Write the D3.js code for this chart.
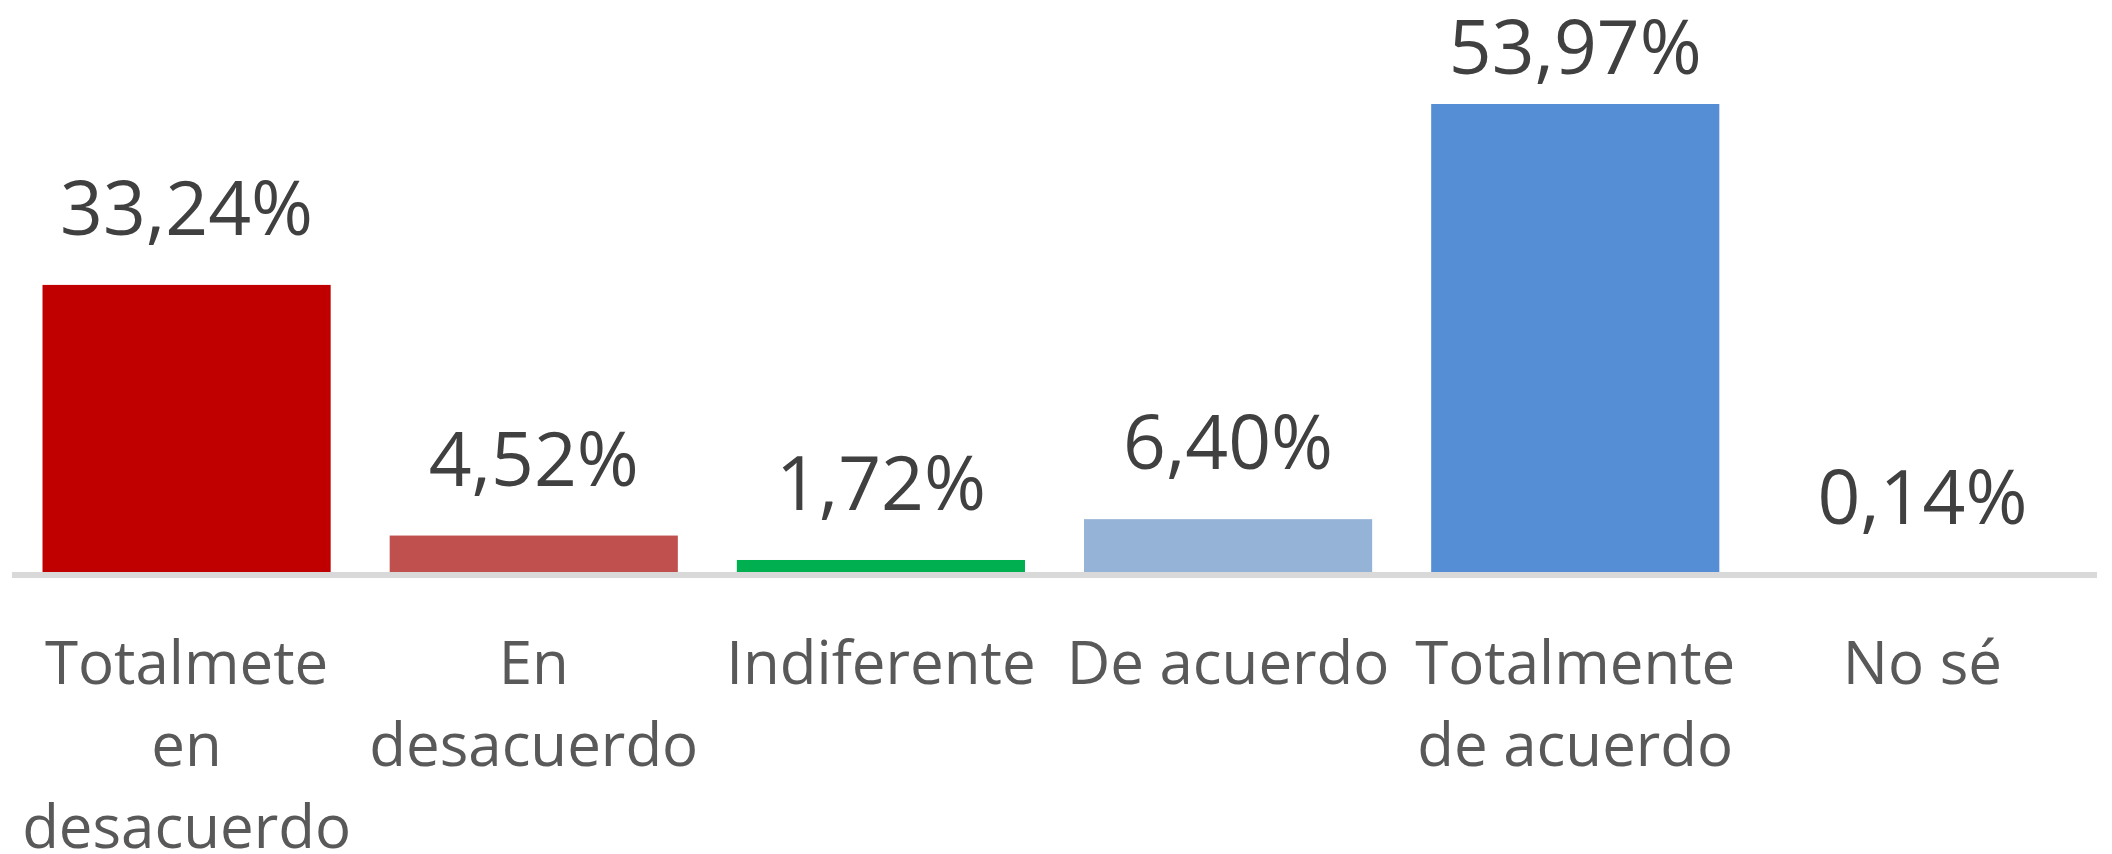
<!DOCTYPE html>
<html>
<head>
<meta charset="utf-8">
<script src="https://cdn.jsdelivr.net/npm/d3@7"></script>
<style>
  body { margin: 0; background: #fff; }
  svg { display: block; font-family: "Open Sans", sans-serif; }
</style>
</head>
<body>
<div id="chart"></div>
<script>
// Data
var categories = ["Totalmete en desacuerdo", "En desacuerdo", "Indiferente", "De acuerdo", "Totalmente de acuerdo", "No sé"];
var values = [33.24, 4.52, 1.72, 6.40, 53.97, 0.14];
var colors = ["#C00000", "#C0504D", "#00B050", "#95B3D7", "#558ED5", "#A5A5A5"];

var width = 2112, height = 854;

var svg = d3.select("#chart")
  .append("svg")
    .attr("width", width)
    .attr("height", height);

// X scale (one band per category)
var x = d3.scaleBand()
    .domain(categories)
    .range([13, 2096])
    .paddingInner(0.17)
    .paddingOuter(0.085);

// Y scale
var baseline = 575;
var y = d3.scaleLinear()
    .domain([0, 53.97])
    .range([baseline, 104]);

// Bars
svg.selectAll(".bar")
  .data(values)
  .enter()
  .append("rect")
    .attr("class", "bar")
    .attr("x", function(d, i) { return x(categories[i]); })
    .attr("y", function(d) { return y(d); })
    .attr("width", x.bandwidth())
    .attr("height", function(d) { return baseline - y(d); })
    .attr("fill", function(d, i) { return colors[i]; });

// Axis line
svg.append("line")
    .attr("x1", 12)
    .attr("x2", 2097)
    .attr("y1", baseline)
    .attr("y2", baseline)
    .attr("stroke", "#D9D9D9")
    .attr("stroke-width", 6);

// Value labels (pushed down when they would leave the chart)
svg.selectAll(".val")
  .data(values)
  .enter()
  .append("text")
    .attr("class", "val")
    .attr("x", function(d, i) { return x(categories[i]) + x.bandwidth() / 2; })
    .attr("y", function(d) { return Math.max(y(d) - 50, 74); })
    .attr("text-anchor", "middle")
    .attr("font-size", 75)
    .attr("fill", "#404040")
    .text(function(d) { return d.toFixed(2).replace(".", ",") + "%"; });

// Category labels, wrapped to the band width
var step = x.step();
svg.selectAll(".cat")
  .data(categories)
  .enter()
  .append("text")
    .attr("class", "cat")
    .attr("x", function(d) { return x(d) + x.bandwidth() / 2; })
    .attr("y", 684)
    .attr("text-anchor", "middle")
    .attr("font-size", 60)
    .attr("fill", "#595959")
    .each(function(d) {
        var text = d3.select(this);
        var words = d.split(" ");
        var lines = [];
        var line = [];
        var tspan = text.append("tspan");
        words.forEach(function(w) {
            line.push(w);
            tspan.text(line.join(" "));
            if (tspan.node().getComputedTextLength() > step && line.length > 1) {
                line.pop();
                lines.push(line.join(" "));
                line = [w];
            }
        });
        lines.push(line.join(" "));
        tspan.remove();
        var cx = text.attr("x");
        lines.forEach(function(l, k) {
            text.append("tspan")
                .attr("x", cx)
                .attr("dy", k === 0 ? 0 : 82)
                .text(l);
        });
    });
</script>
</body>
</html>
